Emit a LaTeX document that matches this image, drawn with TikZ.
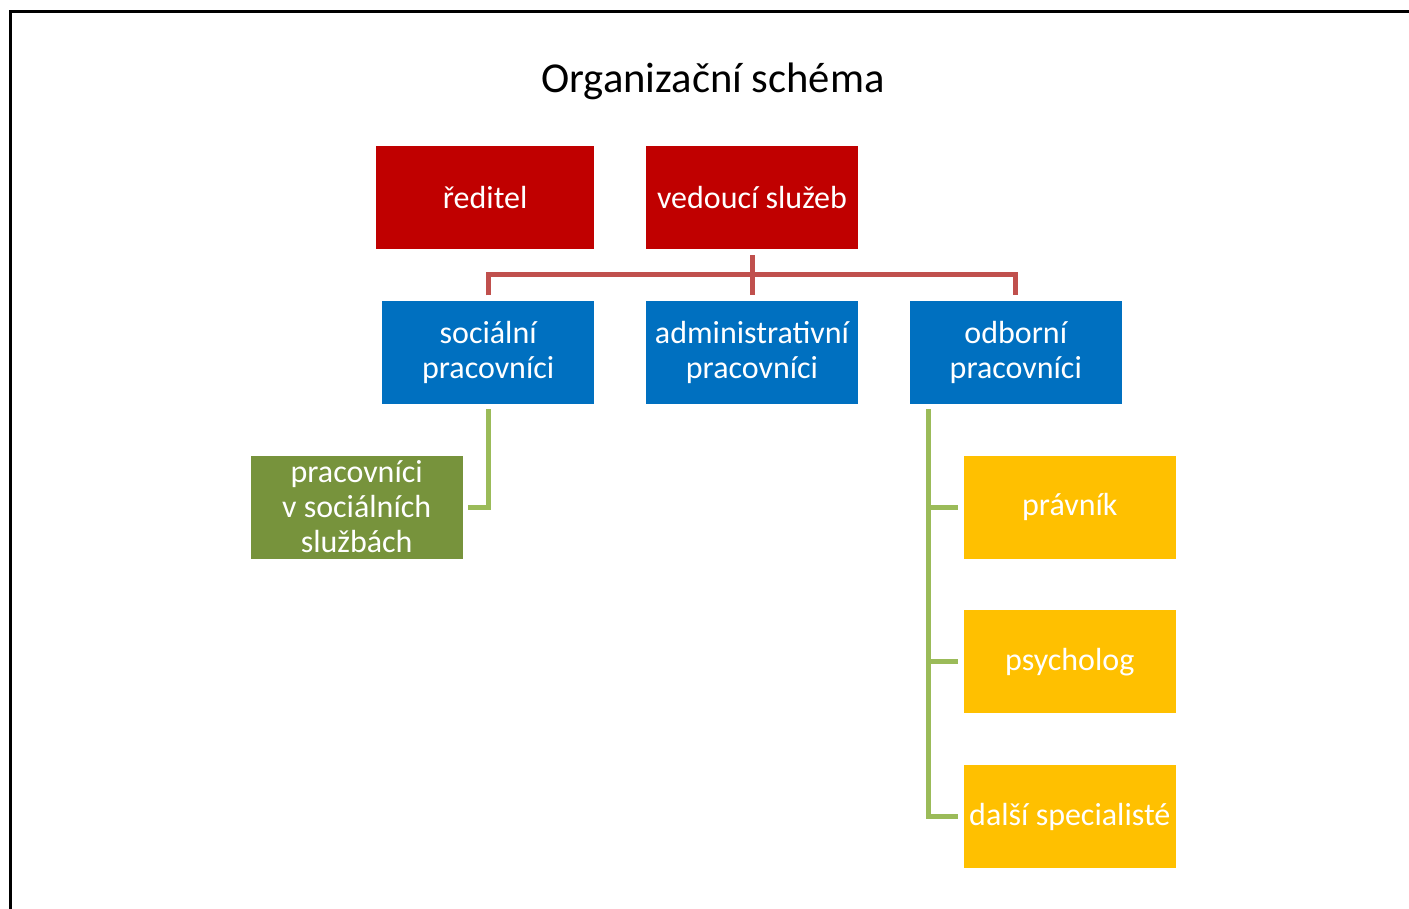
\documentclass[tikz,border=0pt]{standalone}
\usepackage{fontspec}
\setmainfont{Carlito}
\usepackage{tikz}
\usetikzlibrary{positioning}
\definecolor{mred}{HTML}{C00000}
\definecolor{mblue}{HTML}{0070C0}
\definecolor{mgreen}{HTML}{77933C}
\definecolor{myellow}{HTML}{FFC000}
\definecolor{lred}{HTML}{C0504D}
\definecolor{lgreen}{HTML}{9BBB59}
\tikzstyle{box} = [rectangle, minimum width = 106pt, minimum height = 51.5pt, inner sep = 2pt, text = white, text centered, font = \fontsize{16pt}{17.5pt}\selectfont]
\tikzstyle{chief} = [box, fill = mred]
\tikzstyle{staff} = [box, fill = mblue]
\tikzstyle{worker} = [box, fill = mgreen]
\tikzstyle{expert} = [box, fill = myellow]
\tikzstyle{redline} = [line width = 2.5pt, lred]
\tikzstyle{greenline} = [line width = 2.5pt, lgreen]

\begin{document}
\begin{tikzpicture}[x=0.5pt, y=-0.5pt, align=center, node distance = 25.5pt]
  \useasboundingbox (0,0) rectangle (1409,909);
  \clip (0,0) rectangle (1409,909);
  \draw [line width = 1.5pt] (10.5,12) rectangle (1440,940);
  \node (title) at (713,81) [font = \fontsize{21.3pt}{25pt}\selectfont] {Organizační schéma};
  \node (ved) at (752,197.5) [chief] {vedoucí služeb};
  \node (red) [chief, minimum width = 109pt, left= of ved] {ředitel};
  \node (adm) [staff, below= of ved] {administrativní\\pracovníci};
  \node (soc) [staff, left= of adm] {sociální\\pracovníci};
  \node (odb) [staff, right= of adm] {odborní\\pracovníci};
  \node (prac) [worker, below= of soc, xshift = -65.75pt] {pracovníci\\v sociálních\\službách};
  \node (prav) [expert, below= of odb, xshift = 27pt] {právník};
  \node (psy) [expert, below= of prav] {psycholog};
  \node (dal) [expert, below= of psy] {další specialisté};
  \coordinate (bar) at ([yshift=-12.75pt]ved.south);
  \coordinate (spine) at ([xshift=9.5pt, yshift=-2.5pt]odb.south west);
  \draw [redline] ([yshift=-3pt]ved.south) -- ([yshift=2.5pt]adm.north);
  \draw [redline] ([yshift=2.5pt]soc.north) |- (bar) -| ([yshift=2.5pt]odb.north);
  \draw [greenline] ([yshift=-2.5pt]soc.south) |- ([xshift=2.5pt]prac.east);
  \draw [greenline] (spine) |- ([xshift=-2.5pt]dal.west);
  \draw [greenline] (spine |- prav.west) -- ([xshift=-2.5pt]prav.west);
  \draw [greenline] (spine |- psy.west) -- ([xshift=-2.5pt]psy.west);
\end{tikzpicture}
\end{document}
